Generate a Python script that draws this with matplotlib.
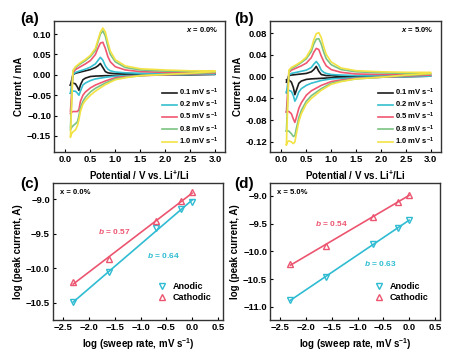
import matplotlib
matplotlib.use('Agg')
import matplotlib.pyplot as plt
import numpy as np

plt.rcParams['font.family'] = ['Liberation Sans', 'DejaVu Sans']
plt.rcParams['font.weight'] = 'bold'
plt.rcParams['axes.labelweight'] = 'bold'
plt.rcParams['mathtext.fontset'] = 'custom'
plt.rcParams['mathtext.rm'] = 'Liberation Sans:bold'
plt.rcParams['mathtext.it'] = 'Liberation Sans:bold:italic'
plt.rcParams['mathtext.bf'] = 'Liberation Sans:bold'

# --- CV data: potentials of forward (anodic) and backward (cathodic) sweep
v_up = [0.10, 0.15, 0.2, 0.3, 0.4, 0.5, 0.6, 0.65, 0.7, 0.75, 0.8, 0.85, 0.9, 1.0, 1.2, 1.5, 2.0, 2.5, 3.0]
v_dn = [3.0, 2.5, 2.0, 1.5, 1.2, 1.0, 0.8, 0.6, 0.5, 0.4, 0.35, 0.3, 0.27, 0.24, 0.2, 0.15, 0.12, 0.10]

rates = ["0.1", "0.2", "0.5", "0.8", "1.0"]
colors = ["#1c1c1c", "#35bfd0", "#f0566f", "#7cc383", "#f3e244"]

# x = 0.0 %
a_up = [
    [-0.025, 0.000, 0.004, 0.007, 0.010, 0.013, 0.018, 0.022, 0.028, 0.018, 0.008, 0.005, 0.004, 0.003, 0.003, 0.002, 0.002, 0.002, 0.002],
    [-0.045, 0.000, 0.006, 0.010, 0.014, 0.019, 0.027, 0.035, 0.043, 0.036, 0.022, 0.014, 0.010, 0.007, 0.005, 0.004, 0.003, 0.003, 0.003],
    [-0.090, 0.005, 0.013, 0.020, 0.027, 0.035, 0.050, 0.065, 0.078, 0.080, 0.065, 0.045, 0.032, 0.020, 0.012, 0.008, 0.006, 0.005, 0.005],
    [-0.130, 0.010, 0.018, 0.027, 0.035, 0.045, 0.060, 0.080, 0.100, 0.108, 0.095, 0.070, 0.050, 0.032, 0.018, 0.012, 0.009, 0.008, 0.008],
    [-0.150, 0.010, 0.020, 0.030, 0.038, 0.048, 0.065, 0.085, 0.105, 0.115, 0.105, 0.080, 0.058, 0.037, 0.022, 0.015, 0.012, 0.010, 0.010],
]
a_dn = [
    [0.001, 0.000, 0.000, -0.001, -0.001, -0.002, -0.002, -0.003, -0.004, -0.008, -0.012, -0.025, -0.038, -0.030, -0.022, -0.020, -0.022, -0.025],
    [0.002, 0.001, 0.000, -0.001, -0.002, -0.003, -0.006, -0.010, -0.014, -0.020, -0.025, -0.040, -0.050, -0.045, -0.040, -0.040, -0.042, -0.045],
    [0.004, 0.002, 0.000, -0.002, -0.004, -0.007, -0.015, -0.025, -0.032, -0.042, -0.050, -0.065, -0.085, -0.090, -0.090, -0.090, -0.092, -0.095],
    [0.006, 0.003, 0.001, -0.002, -0.006, -0.010, -0.020, -0.033, -0.042, -0.055, -0.065, -0.080, -0.100, -0.115, -0.120, -0.125, -0.130, -0.135],
    [0.008, 0.004, 0.001, -0.002, -0.007, -0.012, -0.024, -0.040, -0.050, -0.063, -0.072, -0.090, -0.110, -0.125, -0.135, -0.140, -0.145, -0.153],
]

# x = 5.0 %
b_up = [
    [-0.010, 0.002, 0.003, 0.004, 0.005, 0.006, 0.009, 0.013, 0.019, 0.010, 0.004, 0.003, 0.002, 0.002, 0.001, 0.001, 0.001, 0.001, 0.001],
    [-0.030, 0.003, 0.006, 0.008, 0.010, 0.012, 0.017, 0.023, 0.028, 0.022, 0.012, 0.008, 0.006, 0.004, 0.003, 0.002, 0.002, 0.002, 0.002],
    [-0.065, 0.008, 0.012, 0.016, 0.020, 0.025, 0.035, 0.045, 0.052, 0.050, 0.038, 0.028, 0.020, 0.013, 0.008, 0.005, 0.004, 0.004, 0.004],
    [-0.100, 0.010, 0.015, 0.020, 0.026, 0.033, 0.046, 0.060, 0.069, 0.070, 0.060, 0.045, 0.033, 0.022, 0.013, 0.009, 0.007, 0.006, 0.006],
    [-0.125, 0.012, 0.017, 0.022, 0.028, 0.036, 0.052, 0.068, 0.079, 0.081, 0.072, 0.055, 0.041, 0.027, 0.016, 0.011, 0.009, 0.008, 0.008],
]
b_dn = [
    [0.001, 0.000, 0.000, -0.001, -0.001, -0.002, -0.003, -0.004, -0.005, -0.008, -0.012, -0.025, -0.033, -0.020, -0.010, -0.006, -0.005, -0.006],
    [0.001, 0.000, -0.001, -0.002, -0.003, -0.004, -0.007, -0.012, -0.016, -0.022, -0.028, -0.040, -0.045, -0.035, -0.027, -0.025, -0.026, -0.028],
    [0.003, 0.001, -0.001, -0.003, -0.006, -0.009, -0.016, -0.026, -0.034, -0.048, -0.058, -0.075, -0.084, -0.078, -0.068, -0.064, -0.064, -0.065],
    [0.005, 0.002, -0.001, -0.004, -0.008, -0.012, -0.022, -0.035, -0.045, -0.062, -0.075, -0.095, -0.108, -0.110, -0.105, -0.100, -0.100, -0.100],
    [0.006, 0.003, -0.001, -0.004, -0.009, -0.014, -0.025, -0.040, -0.050, -0.068, -0.082, -0.105, -0.120, -0.123, -0.120, -0.118, -0.120, -0.125],
]

# --- peak currents vs sweep rate
log_rate = [-2.303, -1.609, -0.693, -0.223, 0.0]
c_anodic = [-10.49, -10.06, -9.42, -9.145, -9.04]
c_cathodic = [-10.20, -9.87, -9.32, -9.03, -8.90]
d_anodic = [-10.87, -10.47, -9.87, -9.57, -9.44]
d_cathodic = [-10.22, -9.91, -9.38, -9.10, -8.98]

cyan = "#2fbcd2"
red = "#ec5570"
fs = 6.8


def style(ax):
    for s in ax.spines.values():
        s.set_linewidth(1.0)
        s.set_color("#333333")
    ax.tick_params(direction='in', length=2.5, width=0.8, labelsize=fs, pad=2)
    for t in ax.get_xticklabels() + ax.get_yticklabels():
        t.set_fontweight('bold')


def cv_panel(ax, ups, dns, ylim, yticks, note):
    for up, dn, c, r in zip(ups, dns, colors, rates):
        ax.plot(v_up + v_dn, up + dn, color=c, lw=1.2, label=r + r" mV s$^{-1}$")
    ax.set_xlim(-0.23, 3.2)
    ax.set_ylim(*ylim)
    ax.set_xticks([0.0, 0.5, 1.0, 1.5, 2.0, 2.5, 3.0])
    ax.set_yticks(yticks)
    ax.set_xlabel(r"Potential / V vs. Li$^{+}$/Li", fontsize=7, labelpad=3)
    ax.set_ylabel("Current / mA", fontsize=7, labelpad=2)
    ax.text(0.96, 0.93, note, transform=ax.transAxes, ha='right', va='center', fontsize=5.5)
    ax.legend(loc='lower right', frameon=False, fontsize=5.5, handlelength=1.9,
              labelspacing=0.12, handletextpad=0.3, bbox_to_anchor=(1.0, -0.01))
    style(ax)


def fit_panel(ax, an, ca, ylim, yticks, note, b_ca, b_an, pos_ca, pos_an):
    x = np.array(log_rate)
    for y, c in ((an, cyan), (ca, red)):
        k, q = np.polyfit(x, y, 1)
        ax.plot(x, k * x + q, color=c, lw=1.2)
    ax.plot(x, an, 'v', color=cyan, mfc='none', ms=4, mew=1.0, label="Anodic")
    ax.plot(x, ca, '^', color=red, mfc='none', ms=4, mew=1.0, label="Cathodic")
    ax.set_xlim(-2.7, 0.6)
    ax.set_ylim(*ylim)
    ax.set_xticks([-2.5, -2.0, -1.5, -1.0, -0.5, 0.0, 0.5])
    ax.set_yticks(yticks)
    ax.set_xlabel(r"log (sweep rate, mV s$^{-1}$)", fontsize=7, labelpad=3)
    ax.set_ylabel("log (peak current, A)", fontsize=7, labelpad=2)
    ax.text(0.04, 0.93, note, transform=ax.transAxes, ha='left', va='center', fontsize=5.5)
    ax.text(pos_ca[0], pos_ca[1], r"$b$ = " + b_ca, color=red, fontsize=6, ha='center', va='center')
    ax.text(pos_an[0], pos_an[1], r"$b$ = " + b_an, color=cyan, fontsize=6, ha='center', va='center')
    ax.legend(loc='lower right', frameon=False, fontsize=6.5, handlelength=1.2,
              labelspacing=0.2, handletextpad=0.6, bbox_to_anchor=(0.98, 0.07))
    style(ax)


fig = plt.figure(figsize=(4.72, 3.54), dpi=100)
ax_a = fig.add_axes([0.1144, 0.5698, 0.3623, 0.3718])
ax_b = fig.add_axes([0.572, 0.5698, 0.3617, 0.3718])
ax_c = fig.add_axes([0.1117, 0.096, 0.361, 0.3879])
ax_d = fig.add_axes([0.572, 0.096, 0.3602, 0.3879])

cv_panel(ax_a, a_up, a_dn, (-0.19, 0.133), [-0.15, -0.10, -0.05, 0.00, 0.05, 0.10], r"$x$ = 0.0%")
cv_panel(ax_b, b_up, b_dn, (-0.139, 0.103), [-0.12, -0.08, -0.04, 0.00, 0.04, 0.08], r"$x$ = 5.0%")
ax_b.yaxis.set_major_formatter(matplotlib.ticker.FormatStrFormatter('%.2f'))

fit_panel(ax_c, c_anodic, c_cathodic, (-10.75, -8.76), [-10.5, -10.0, -9.5, -9.0],
          "x = 0.0%", "0.57", "0.64", (-1.5, -9.46), (-0.55, -9.82))
fit_panel(ax_d, d_anodic, d_cathodic, (-11.24, -8.76), [-11.0, -10.5, -10.0, -9.5, -9.0],
          "x = 5.0%", "0.54", "0.63", (-1.5, -9.5), (-0.55, -10.22))

for lbl, x, y in (("(a)", 0.042, 0.965), ("(b)", 0.497, 0.965), ("(c)", 0.042, 0.5), ("(d)", 0.497, 0.5)):
    fig.text(x, y, lbl, fontsize=11, fontweight='bold', ha='left', va='top')

fig.savefig("out.png", dpi=100)
